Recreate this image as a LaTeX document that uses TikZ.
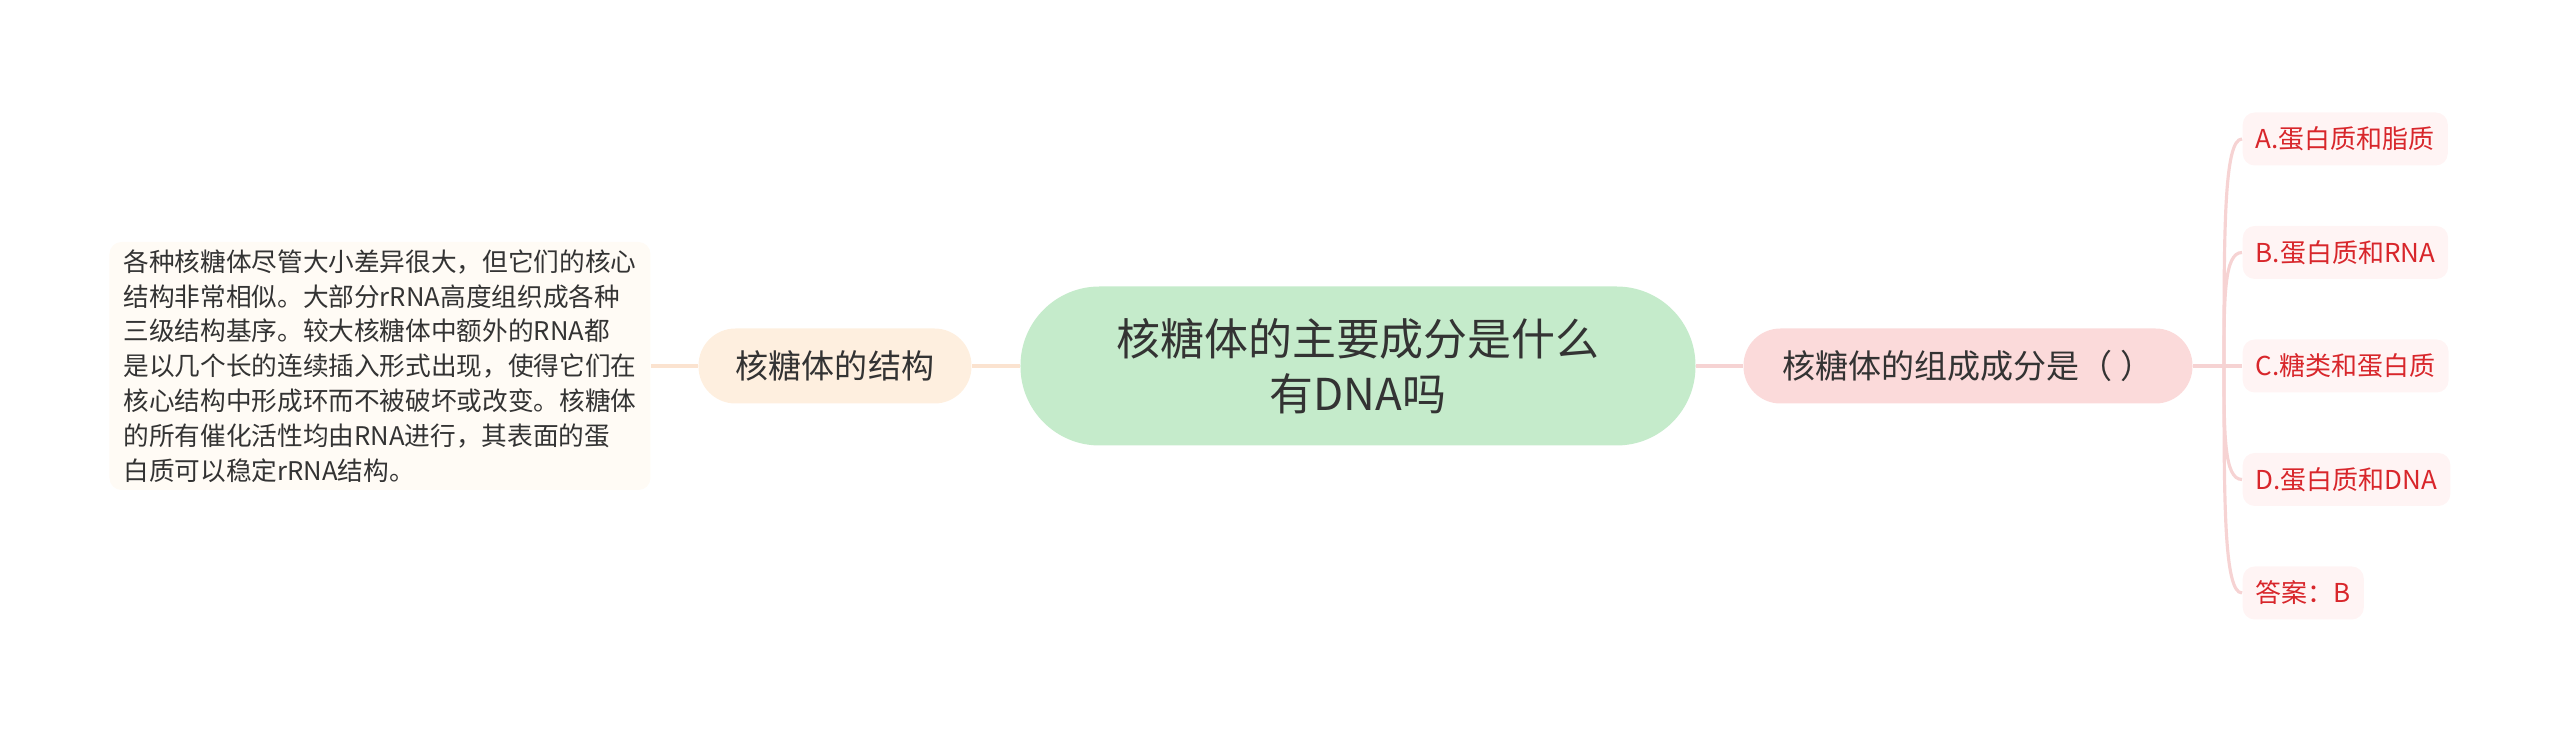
\documentclass[tikz,border=0pt]{standalone}
\usepackage{fontspec}
\setmainfont{Noto Sans CJK SC}
\usetikzlibrary{positioning}

\definecolor{maingreen}{HTML}{C5EBCB}
\definecolor{peach}{HTML}{FEEFDF}
\definecolor{rose}{HTML}{FBDADA}
\definecolor{cream}{HTML}{FFFBF5}
\definecolor{blush}{HTML}{FFF4F4}
\definecolor{peachline}{HTML}{FBE3D0}
\definecolor{roseline}{HTML}{F6D3D3}
\definecolor{textdark}{HTML}{333333}
\definecolor{leafred}{HTML}{D8262B}

\begin{document}
\begin{tikzpicture}[main/.style = {fill=maingreen, rounded corners=7.9mm, minimum width=67.5mm, minimum height=15.9mm, align=center, text=textdark, font=\fontsize{12.5}{15.6}\selectfont},
  topic/.style = {rounded corners=3.7mm, minimum height=7.5mm, inner sep=0pt, text=textdark, font=\fontsize{9.4}{11}\selectfont},
  note/.style = {fill=cream, rounded corners=1.2mm, minimum width=54.1mm, minimum height=24.8mm, inner xsep=1.3mm, inner ysep=0pt, align=left, text=textdark, font=\fontsize{7.3}{9.9}\selectfont},
  leaf/.style = {fill=blush, rounded corners=1.2mm, minimum height=5.3mm, inner xsep=1.3mm, inner ysep=0pt, anchor=west, text=leafred, font=\fontsize{7.4}{9}\selectfont},
  lline/.style = {draw=peachline, line width=0.9pt},
  rline/.style = {draw=roseline, line width=0.9pt}]
        \useasboundingbox (-13.58,-3.68) rectangle (12.02,3.66);
        \node[main] (c) at (0,0) {核糖体的主要成分是什么\\有DNA吗};
        \node[topic, fill=peach, minimum width=27.3mm] (l) [left of=c, node distance=5.23cm] {核糖体的结构};
        \node[note] (t) [left of=l, node distance=4.55cm] {各种核糖体尽管大小差异很大，但它们的核心\\结构非常相似。大部分rRNA高度组织成各种\\三级结构基序。较大核糖体中额外的RNA都\\是以几个长的连续插入形式出现，使得它们在\\核心结构中形成环而不被破坏或改变。核糖体\\的所有催化活性均由RNA进行，其表面的蛋\\白质可以稳定rRNA结构。};
        \node[topic, fill=rose, minimum width=44.9mm] (r) [right of=c, node distance=6.1cm] {核糖体的组成成分是（ ）};
        \coordinate (j) at (8.66,0);
        \node[leaf] (a) at (8.84,2.27) {A.蛋白质和脂质};
        \node[leaf] (b) at (8.84,1.135) {B.蛋白质和RNA};
        \node[leaf] (cc) at (8.84,0) {C.糖类和蛋白质};
        \node[leaf] (d) at (8.84,-1.135) {D.蛋白质和DNA};
        \node[leaf] (e) at (8.84,-2.27) {答案：B};
        \draw[lline] (c) -- (l);
        \draw[lline] (l) -- (t);
        \draw[rline] (c) -- (r);
        \draw[rline] (r) -- (j);
        \foreach \n/\y in {a/2.27, b/1.135, cc/0, d/-1.135, e/-2.27}
            \draw[rline] (j) .. controls (8.66,{0.6*\y}) and (8.66,\y) .. (\n.west);
\end{tikzpicture}
\end{document}
